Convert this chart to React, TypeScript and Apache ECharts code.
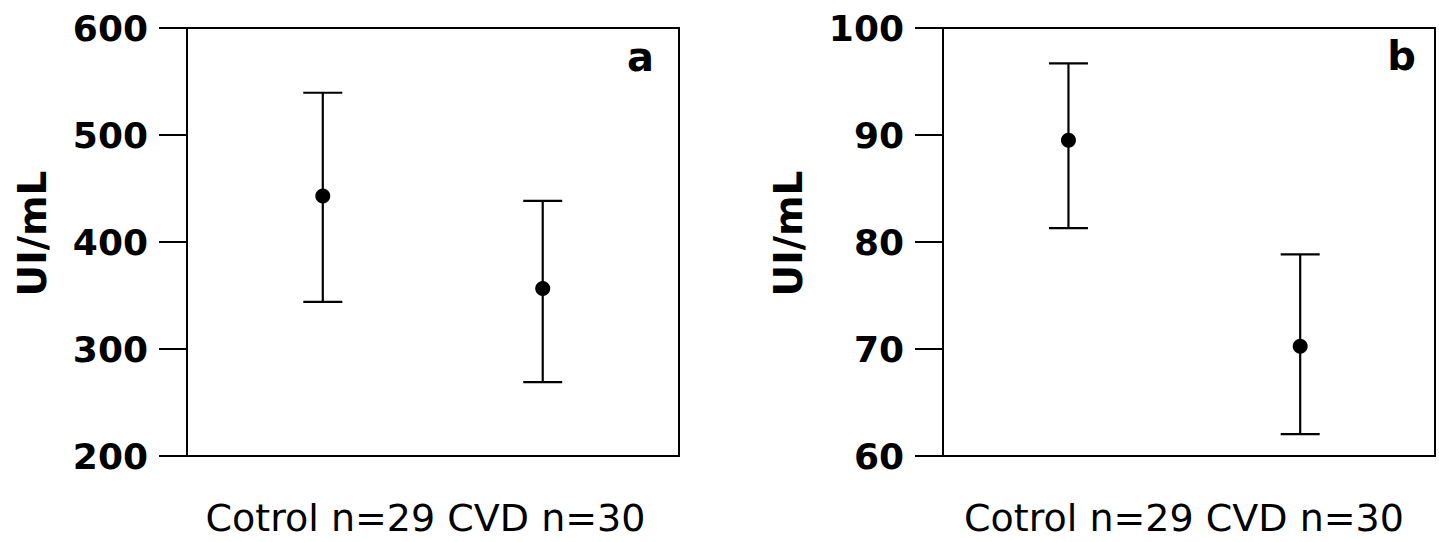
import React, { useEffect, useRef } from "react";
import * as echarts from "echarts";

// Panel a (UI/mL, range 200-600)
const groupLabel = "Cotrol n=29 CVD n=30";
const groupsA = ["Cotrol", "CVD"];
const groupXA = [0.276, 0.723];
const meanA = [443, 356.5];
const lowA = [344, 269];
const highA = [539.5, 438.5];
const ticksA = { min: 200, max: 600, interval: 100 };

// Panel b (UI/mL, range 60-100)
const groupsB = ["Cotrol", "CVD"];
const groupXB = [0.255, 0.726];
const meanB = [89.5, 70.25];
const lowB = [81.3, 62.05];
const highB = [96.7, 78.85];
const ticksB = { min: 60, max: 100, interval: 10 };

const FONT = "DejaVu Sans";

function errorRender(params: any, api: any) {
  const x = api.value(0);
  const lo = api.value(1);
  const hi = api.value(2);
  const pHi = api.coord([x, hi]);
  const pLo = api.coord([x, lo]);
  const hw = 19.5;
  const st = { stroke: "#000", lineWidth: 2.2 };
  return {
    type: "group",
    children: [
      { type: "line", shape: { x1: pHi[0], y1: pHi[1], x2: pLo[0], y2: pLo[1] }, style: st },
      { type: "line", shape: { x1: pHi[0] - hw, y1: pHi[1], x2: pHi[0] + hw, y2: pHi[1] }, style: st },
      { type: "line", shape: { x1: pLo[0] - hw, y1: pLo[1], x2: pLo[0] + hw, y2: pLo[1] }, style: st },
    ],
  };
}

function makeX(gridIndex: number, padRight: number) {
  return {
    gridIndex,
    type: "value",
    min: 0,
    max: 1,
    axisLine: { show: false },
    axisTick: { show: false },
    axisLabel: { show: false },
    splitLine: { show: false },
    name: groupLabel,
    nameLocation: "middle",
    nameGap: 43,
    nameTextStyle: {
      fontFamily: FONT,
      fontSize: 38,
      color: "#000",
      padding: [0, padRight, 0, 0],
    },
  };
}

function makeY(gridIndex: number, t: { min: number; max: number; interval: number }) {
  return {
    gridIndex,
    type: "value",
    min: t.min,
    max: t.max,
    interval: t.interval,
    axisLine: { show: true, lineStyle: { color: "#000", width: 2 } },
    axisTick: { show: true, length: 28, lineStyle: { color: "#000", width: 2 } },
    axisLabel: {
      margin: 39,
      fontFamily: FONT,
      fontWeight: "bold",
      fontSize: 36,
      color: "#000",
    },
    splitLine: { show: false },
    name: "UI/mL",
    nameLocation: "middle",
    nameGap: 135,
    nameTextStyle: {
      fontFamily: FONT,
      fontWeight: "bold",
      fontSize: 39,
      color: "#000",
      padding: [0, 0, 0, 17],
    },
  };
}

export default function App() {
  const ref = useRef<HTMLDivElement>(null);
  useEffect(() => {
    if (!ref.current) return;
    const chart = echarts.init(ref.current, undefined, { renderer: "svg" });
    const option: any = {
      animation: false,
      backgroundColor: "#fff",
      grid: [
        { left: 187, top: 28, width: 492, height: 432, show: true, borderColor: "#000", borderWidth: 2, backgroundColor: "transparent" },
        { left: 943, top: 28, width: 492, height: 432, show: true, borderColor: "#000", borderWidth: 2, backgroundColor: "transparent" },
      ],
      xAxis: [makeX(0, 15), makeX(1, 10)],
      yAxis: [makeY(0, ticksA), makeY(1, ticksB)],
      series: [
        {
          type: "custom",
          name: "a-error",
          xAxisIndex: 0,
          yAxisIndex: 0,
          renderItem: errorRender,
          encode: { x: 0, y: [1, 2] },
          data: groupsA.map((g, i) => [groupXA[i], lowA[i], highA[i], g]),
          z: 2,
        },
        {
          type: "scatter",
          name: "a-mean",
          xAxisIndex: 0,
          yAxisIndex: 0,
          symbolSize: 15,
          itemStyle: { color: "#000", opacity: 1 },
          data: groupsA.map((g, i) => [groupXA[i], meanA[i]]),
          z: 3,
        },
        {
          type: "custom",
          name: "b-error",
          xAxisIndex: 1,
          yAxisIndex: 1,
          renderItem: errorRender,
          encode: { x: 0, y: [1, 2] },
          data: groupsB.map((g, i) => [groupXB[i], lowB[i], highB[i], g]),
          z: 2,
        },
        {
          type: "scatter",
          name: "b-mean",
          xAxisIndex: 1,
          yAxisIndex: 1,
          symbolSize: 15,
          itemStyle: { color: "#000", opacity: 1 },
          data: groupsB.map((g, i) => [groupXB[i], meanB[i]]),
          z: 3,
        },
      ],
      graphic: [
        {
          type: "text",
          x: 654,
          y: 57,
          style: { text: "a", fontFamily: FONT, fontWeight: "bold", fontSize: 40, fill: "#000", textAlign: "right", textVerticalAlign: "middle" },
        },
        {
          type: "text",
          x: 1416,
          y: 56,
          style: { text: "b", fontFamily: FONT, fontWeight: "bold", fontSize: 40, fill: "#000", textAlign: "right", textVerticalAlign: "middle" },
        },
      ],
    };
    chart.setOption(option);
    return () => chart.dispose();
  }, []);
  return (
    <div
      ref={ref}
      style={{ position: "absolute", left: 0, top: 0, width: 1439, height: 542 }}
    />
  );
}
